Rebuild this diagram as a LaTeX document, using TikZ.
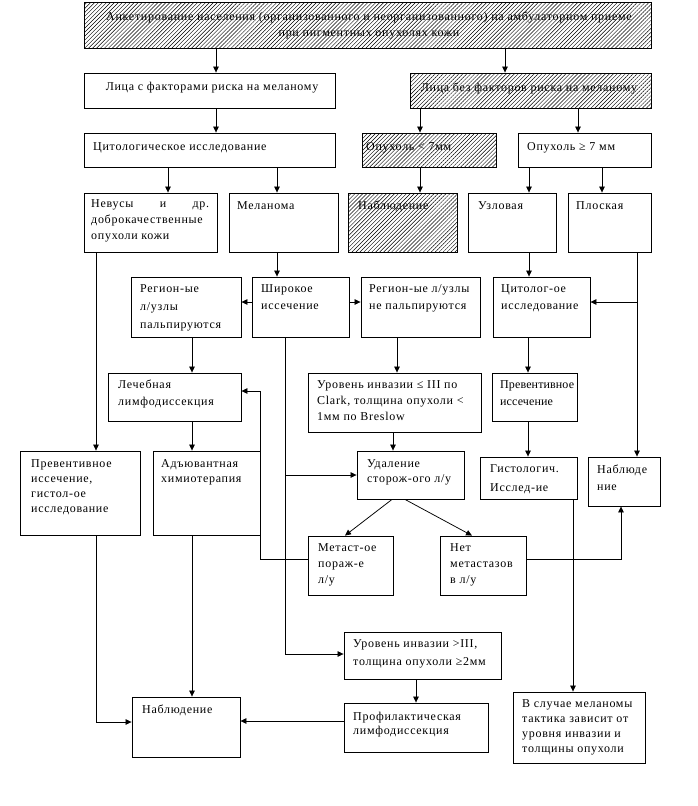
\documentclass[tikz,border=0pt]{standalone}
\usepackage{fontspec}
\setmainfont{Liberation Serif}[LetterSpace=6]
\usetikzlibrary{arrows.meta,patterns.meta,fit,calc}
\tikzset{
  box/.style={draw, line width=0.85pt, inner sep=0pt},
  hbox/.style={box, pattern={Lines[angle=45,distance=2.8pt,line width=0.45pt]}},
  lbl/.style={inner sep=0pt, align=left, font=\fontsize{12}{#1}\selectfont},
  lbl/.default=16,
  arr/.style={line width=0.75pt, -{Triangle[length=6pt,width=5.5pt]}},
}
\begin{document}
\begin{tikzpicture}[x=1pt,y=-1pt]
\useasboundingbox (0,0) rectangle (697,806);
% boxes
\node[hbox, fit={(84,2) (651,48)}] (top) {};
\node[box, fit={(84,73) (335,108)}] (risk) {};
\node[hbox, fit={(410,73) (651,108)}] (norisk) {};
\node[box, fit={(84,133) (335,167)}] (cyto) {};
\node[hbox, fit={(362,133) (496,167)}] (small) {};
\node[box, fit={(518,133) (651,167)}] (big) {};
\node[box, fit={(84,193) (217,252)}] (nevus) {};
\node[box, fit={(229,193) (338,252)}] (mel) {};
\node[hbox, fit={(348,193) (457,252)}] (obs1) {};
\node[box, fit={(468,193) (556,252)}] (nod) {};
\node[box, fit={(568,193) (651,252)}] (flat) {};
\node[box, fit={(131,277) (241,337)}] (rlp) {};
\node[box, fit={(252,277) (349,337)}] (wide) {};
\node[box, fit={(361,277) (480,337)}] (rln) {};
\node[box, fit={(493,277) (590,337)}] (cyto2) {};
\node[box, fit={(108,373) (241,421)}] (treat) {};
\node[box, fit={(308,373) (481,432)}] (lvl1) {};
\node[box, fit={(492,373) (577,421)}] (prev2) {};
\node[box, fit={(20,451) (140,535)}] (prev1) {};
\node[box, fit={(153,451) (260,535)}] (adj) {};
\node[box, fit={(357,451) (464,499)}] (sent) {};
\node[box, fit={(480,457) (577,499)}] (hist) {};
\node[box, fit={(588,457) (660,506)}] (obs2) {};
\node[box, fit={(308,536) (393,595)}] (met) {};
\node[box, fit={(440,536) (526,595)}] (nomet) {};
\node[box, fit={(344,632) (501,679)}] (lvl2) {};
\node[box, fit={(132,697) (240,757)}] (obs3) {};
\node[box, fit={(344,703) (488,752)}] (prof) {};
\node[box, fit={(513,692) (645,763)}] (case) {};
% texts
\node[lbl=16, align=center] (ttop) at (369,25) {Анкетирование населения (организованного и неорганизованного) на амбулаторном приеме\\при пигментных опухолях кожи};
\node[lbl] (trisk) at (212,88) {Лица с факторами риска на меланому};
\node[lbl] (tnorisk) at (529,88) {Лица без факторов риска на меланому};
\node[lbl, anchor=west] (tcyto) at (93,148) {Цитологическое исследование};
\node[lbl, anchor=west] (tsmall) at (366,148) {Опухоль < 7мм};
\node[lbl, anchor=west] (tbig) at (527,148) {Опухоль ≥ 7 мм};
\node[lbl=16, anchor=north west] (tnevus) at (91,199) {\hbox to 118pt{Невусы\hfill и\hfill др.}\\доброкачественные\\опухоли кожи};
\node[lbl, anchor=west] (tmel) at (237,206) {Меланома};
\node[lbl, anchor=west] (tobs1) at (358,206) {Наблюдение};
\node[lbl, anchor=west] (tnod) at (478,206) {Узловая};
\node[lbl, anchor=west] (tflat) at (576,206) {Плоская};
\node[lbl=18, anchor=north west] (trlp) at (140,284) {Регион-ые\\л/узлы\\пальпируются};
\node[lbl=17, anchor=north west] (twide) at (261,284) {Широкое\\иссечение};
\node[lbl=17, anchor=north west] (trln) at (369,284) {Регион-ые л/узлы\\не пальпируются};
\node[lbl=17, anchor=north west] (tcyto2) at (501,284) {Цитолог-ое\\исследование};
\node[lbl=17, anchor=north west] (ttreat) at (118,380) {Лечебная\\лимфодиссекция};
\node[lbl=16, anchor=north west] (tlvl1) at (317,380) {Уровень инвазии ≤ III по\\Clark, толщина опухоли <\\1мм по Breslow};
\node[lbl=17, anchor=north west] (tprev2) at (500,380) {\addfontfeature{LetterSpace=1}Превентивное\\\addfontfeature{LetterSpace=1}иссечение};
\node[lbl=15, anchor=north west] (tprev1) at (31,459) {Превентивное\\иссечение,\\гистол-ое\\исследование};
\node[lbl=15, anchor=north west] (tadj) at (161,459) {Адъювантная\\химиотерапия};
\node[lbl=15, anchor=north west] (tsent) at (367,459) {Удаление\\сторож-ого л/у};
\node[lbl=19, anchor=north west] (thist) at (490,464) {Гистологич.\\Исслед-ие};
\node[lbl=17, anchor=north west] (tobs2) at (597,465) {Наблюде\\ние};
\node[lbl=16, anchor=north west] (tmet) at (318,543) {Метаст-ое\\пораж-е\\л/у};
\node[lbl=16, anchor=north west] (tnomet) at (450,543) {Нет\\метастазов\\в л/у};
\node[lbl=18, anchor=north west] (tlvl2) at (353,639) {Уровень инвазии >III,\\толщина опухоли ≥2мм};
\node[lbl, anchor=west] (tobs3) at (142,710) {Наблюдение};
\node[lbl=14, anchor=north west] (tprof) at (353,712) {Профилактическая\\лимфодиссекция};
\node[lbl=15, anchor=north west] (tcase) at (522,699) {В случае меланомы\\тактика зависит от\\уровня инвазии и\\толщины опухоли};
% connectors
\draw[arr] (top.south -| 216,0) -- (risk.north -| 216,0);
\draw[arr] (top.south -| 505,0) -- (norisk.north -| 505,0);
\draw[arr] (risk.south -| 216,0) -- (cyto.north -| 216,0);
\draw[arr] (norisk.south -| 420,0) -- (small.north -| 420,0);
\draw[arr] (norisk.south -| 578,0) -- (big.north -| 578,0);
\draw[arr] (cyto.south -| 168,0) -- (nevus.north -| 168,0);
\draw[arr] (cyto.south -| 277,0) -- (mel.north -| 277,0);
\draw[arr] (small.south -| 420,0) -- (obs1.north -| 420,0);
\draw[arr] (big.south -| 529,0) -- (nod.north -| 529,0);
\draw[arr] (big.south -| 602,0) -- (flat.north -| 602,0);
\draw[arr] (nevus.south -| 96,0) -- (prev1.north -| 96,0);
\draw[arr] (mel.south -| 277,0) -- (wide.north -| 277,0);
\draw[arr] (nod.south -| 529,0) -- (cyto2.north -| 529,0);
\draw[arr] (flat.south -| 637,0) -- (obs2.north -| 637,0);
\coordinate (fj) at (637,302);
\draw[arr] (fj) -- (cyto2.east |- fj);
\draw[arr] (wide.west |- 0,302) -- (rlp.east |- 0,302);
\draw[arr] (wide.east |- 0,302) -- (rln.west |- 0,302);
\draw[arr] (rlp.south -| 192,0) -- (treat.north -| 192,0);
\draw[arr] (rln.south -| 397,0) -- (lvl1.north -| 397,0);
\draw[arr] (cyto2.south -| 528,0) -- (prev2.north -| 528,0);
\draw[arr] (wide.south -| 285,0) |- (lvl2.west |- 0,654);
\coordinate (wj) at (285,475);
\draw[arr] (wj) -- (sent.west |- wj);
\draw[arr] (treat.south -| 192,0) -- (adj.north -| 192,0);
\draw[arr] (lvl1.south -| 393,0) -- (sent.north -| 393,0);
\draw[arr] (prev2.south -| 528,0) -- (hist.north -| 528,0);
\draw[arr] (sent.south -| 392,0) -- (met.north -| 345,0);
\draw[arr] (sent.south -| 405,0) -- (nomet.north -| 472,0);
\draw[arr] (met.west |- 0,559) -| (adj.east |- 0,391) -- (treat.east |- 0,391);
\draw[arr] (nomet.east |- 0,559) -| (obs2.south -| 621,0);
\draw[arr] (hist.south -| 573,0) -- (case.north -| 573,0);
\draw[arr] (prev1.south -| 96,0) |- (obs3.west |- 0,722);
\draw[arr] (adj.south -| 192,0) -- (obs3.north -| 192,0);
\draw[arr] (lvl2.south -| 416,0) -- (prof.north -| 416,0);
\draw[arr] (prof.west |- 0,721) -- (obs3.east |- 0,721);
\end{tikzpicture}
\end{document}
